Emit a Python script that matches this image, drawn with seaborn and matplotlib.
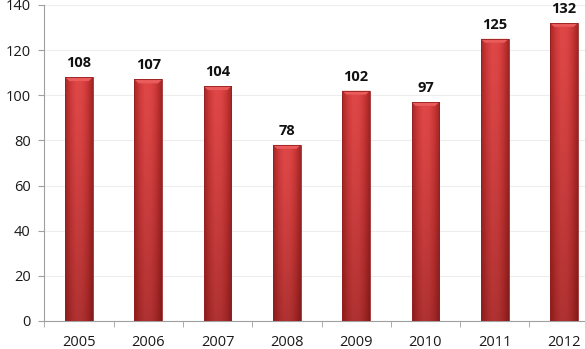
import matplotlib
matplotlib.use("Agg")
import matplotlib.pyplot as plt
import seaborn as sns
import numpy as np
import pandas as pd
from matplotlib.colors import LinearSegmentedColormap

years = ["2005", "2006", "2007", "2008", "2009", "2010", "2011", "2012"]
values = [108, 107, 104, 78, 102, 97, 125, 132]

sns.set_style("white")
plt.rcParams['font.family'] = ['Open Sans', 'DejaVu Sans']

df = pd.DataFrame({"year": years, "value": values})

fig = plt.figure(figsize=(5.85, 3.49), dpi=100)
W, H = 585, 349
left, right = 44.4 / W, 598.6 / W
bottom, top = (H - 321) / H, (H - 5) / H
ax = fig.add_axes([left, bottom, right - left, top - bottom])

sns.barplot(data=df, x="year", y="value", color="#D43C3C", width=0.4,
            saturation=1, ax=ax, zorder=2)

ax.set_xlim(-0.5, 7.5)
ax.set_ylim(0, 140)
ax.set_yticks(range(0, 141, 20))
ax.set_xlabel("")
ax.set_ylabel("")

# horizontal cylinder gradient
cmap = LinearSegmentedColormap.from_list(
    "cyl", ["#A62828", "#CF3A3A", "#E04848", "#DE4646", "#CC3838", "#A02626"])
grad = np.linspace(0, 1, 64).reshape(1, -1)
for p in ax.patches:
    x0, y0 = p.get_x(), p.get_y()
    w, h = p.get_width(), p.get_height()
    im = ax.imshow(grad, extent=[x0, x0 + w, y0, y0 + h], aspect="auto",
                   cmap=cmap, zorder=3, origin="lower", interpolation="bilinear")
    im.set_clip_path(p)
    # vertical darkening toward bottom
    vg = np.linspace(0, 1, 128).reshape(-1, 1)
    shade = np.zeros((128, 1, 4))
    shade[..., 0] = 0.25
    shade[..., 3] = 0.30 * (1 - vg) ** 1.2
    im2 = ax.imshow(shade, extent=[x0, x0 + w, y0, y0 + h], aspect="auto",
                    zorder=4, origin="lower", interpolation="bilinear")
    im2.set_clip_path(p)
    # top bevel (light trapezoid)
    th = 1.7
    ax.fill([x0, x0 + w, x0 + w * 0.85, x0 + w * 0.15],
            [y0 + h, y0 + h, y0 + h - th, y0 + h - th],
            color="#EA5C5C", zorder=5, linewidth=0)
    p.set_edgecolor("#962020")
    p.set_linewidth(0.6)
    p.set_zorder(7)
    p.set_facecolor("none")

for i, v in enumerate(values):
    ax.text(i, v + 3.2, str(v), ha="center", va="bottom", fontsize=10.5,
            fontweight="bold", color="#111111")

ax.yaxis.grid(True, color="#EDEDED", lw=0.8, zorder=0)
ax.set_axisbelow(True)
for s in ["top", "right"]:
    ax.spines[s].set_visible(False)
for s in ["left", "bottom"]:
    ax.spines[s].set_color("#A0A0A0")
    ax.spines[s].set_linewidth(0.8)

ax.tick_params(axis="y", which="both", direction="out", length=4, color="#A0A0A0",
               labelsize=10.5, labelcolor="#1a1a1a", left=True, pad=6)
ax.tick_params(axis="x", which="major", length=0, labelsize=10.5,
               labelcolor="#1a1a1a", pad=10)
ax.set_xticks(np.arange(-0.5, 8, 1), minor=True)
ax.tick_params(axis="x", which="minor", direction="out", length=4, color="#A0A0A0",
               bottom=True)

fig.savefig("out.png", dpi=100)
